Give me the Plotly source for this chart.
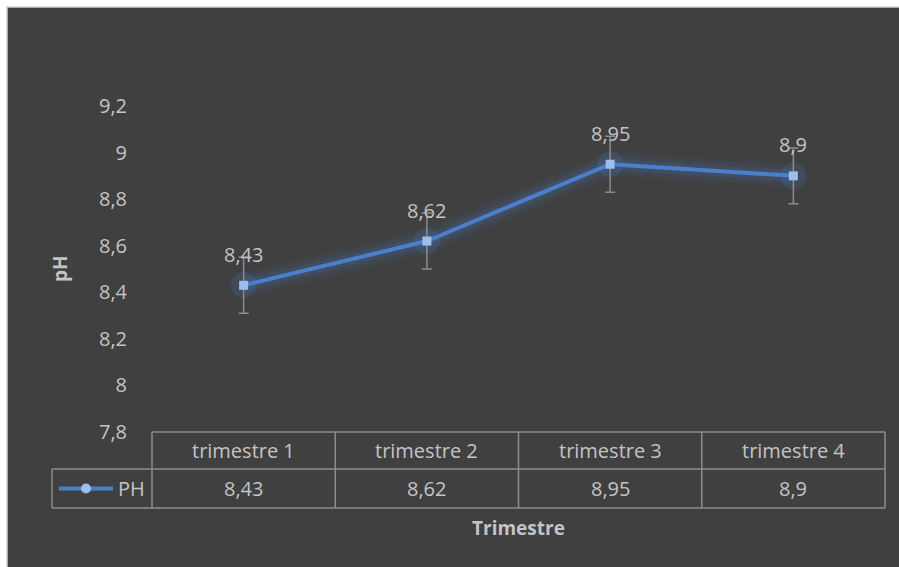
import plotly.graph_objects as go

categories = ["trimestre 1", "trimestre 2", "trimestre 3", "trimestre 4"]
ph_values = [8.43, 8.62, 8.95, 8.9]
ph_errors = [0.12, 0.12, 0.12, 0.12]
y_ticks = [7.8, 8.0, 8.2, 8.4, 8.6, 8.8, 9.0, 9.2]
series_name = "PH"

W, H = 899, 567
L, R, T, B = 152, 14, 106, 135
PW, PH_ = W - L - R, H - T - B

def fr(v):
    return ("%g" % v).replace(".", ",")

def px_x(p):
    return (p - L) / PW

def px_y(p):
    return (H - B - p) / PH_

TXT = "#c4c4c4"
GRID = "#8c8c8c"
FONT = "Open Sans"
FS = 20

fig = go.Figure()
xs = list(range(len(categories)))

# glow
for w, op in [(24, 0.05), (17, 0.08), (11, 0.13)]:
    fig.add_trace(go.Scatter(x=xs, y=ph_values, mode="lines",
                             line=dict(color="#4a7fcb", width=w),
                             opacity=op, hoverinfo="skip", showlegend=False))
fig.add_trace(go.Scatter(x=xs, y=ph_values, mode="markers",
                         marker=dict(size=26, color="#4a7fcb", opacity=0.18),
                         hoverinfo="skip", showlegend=False))

fig.add_trace(go.Scatter(
    x=xs, y=ph_values, mode="lines+markers", name=series_name,
    line=dict(color="#4a7fcb", width=4),
    marker=dict(symbol="square", size=9, color="#9dbdeb"),
    error_y=dict(type="data", array=ph_errors, color="#8c8c8c", thickness=1.5, width=5),
    showlegend=False,
))

shapes = []
# chart frame
shapes.append(dict(type="rect", xref="paper", yref="paper",
                   x0=px_x(7), x1=px_x(W + 5), y0=px_y(H + 5), y1=px_y(7),
                   fillcolor="#404040", line=dict(color="#d0d0d0", width=1.5),
                   layer="below"))

annotations = []
# data labels
for x, v in zip(xs, ph_values):
    annotations.append(dict(x=x, y=v, xref="x", yref="y", text=fr(v), showarrow=False,
                            xanchor="center", yanchor="middle", yshift=31,
                            font=dict(family=FONT, size=FS, color=TXT)))

# table
n = len(categories)
row0, row1, row2 = 0.0, px_y(469), px_y(508)
leg_left = px_x(52)
line_style = dict(color=GRID, width=1.5)
shapes.append(dict(type="line", xref="paper", yref="paper", x0=0, x1=1, y0=row0, y1=row0, line=line_style))
shapes.append(dict(type="line", xref="paper", yref="paper", x0=leg_left, x1=1, y0=row1, y1=row1, line=line_style))
shapes.append(dict(type="line", xref="paper", yref="paper", x0=leg_left, x1=1, y0=row2, y1=row2, line=line_style))
shapes.append(dict(type="line", xref="paper", yref="paper", x0=leg_left, x1=leg_left, y0=row2, y1=row1, line=line_style))
for i in range(n + 1):
    xp = i / n
    shapes.append(dict(type="line", xref="paper", yref="paper", x0=xp, x1=xp, y0=row2, y1=row0, line=line_style))

for i, (c, v) in enumerate(zip(categories, ph_values)):
    xc = (i + 0.5) / n
    annotations.append(dict(x=xc, y=(row0 + row1) / 2, xref="paper", yref="paper", text=c,
                            xanchor="center", yanchor="middle",
                            showarrow=False, font=dict(family=FONT, size=FS, color=TXT)))
    annotations.append(dict(x=xc, y=(row1 + row2) / 2, xref="paper", yref="paper", text=fr(v),
                            xanchor="center", yanchor="middle",
                            showarrow=False, font=dict(family=FONT, size=FS, color=TXT)))

# legend key in table
ly = (row1 + row2) / 2
shapes.append(dict(type="line", xref="paper", yref="paper", x0=px_x(59), x1=px_x(113), y0=ly, y1=ly,
                   line=dict(color="#4a7fcb", width=4)))
shapes.append(dict(type="circle", xref="paper", yref="paper", x0=px_x(81), x1=px_x(91),
                   y0=ly - 5 / PH_, y1=ly + 5 / PH_, fillcolor="#9dbdeb", line=dict(width=0)))
annotations.append(dict(x=px_x(116), y=ly, xref="paper", yref="paper", text=series_name,
                        xanchor="left", yanchor="middle",
                        showarrow=False, font=dict(family=FONT, size=FS, color=TXT)))

# axis titles
annotations.append(dict(x=px_x(60), y=px_y(268), xref="paper", yref="paper", text="<b>pH</b>",
                        xanchor="center", yanchor="middle",
                        textangle=-90, showarrow=False, font=dict(family=FONT, size=19, color=TXT)))
annotations.append(dict(x=px_x(518), y=px_y(528), xref="paper", yref="paper", text="<b>Trimestre</b>",
                        xanchor="center", yanchor="middle",
                        showarrow=False, font=dict(family=FONT, size=19, color=TXT)))

fig.update_layout(
    width=W, height=H,
    margin=dict(l=L, r=R, t=T, b=B),
    paper_bgcolor="white", plot_bgcolor="rgba(0,0,0,0)",
    shapes=shapes, annotations=annotations,
    xaxis=dict(range=[-0.5, n - 0.5], showgrid=False, zeroline=False, showticklabels=False,
               showline=False, fixedrange=True),
    yaxis=dict(range=[7.8, 9.2], tickvals=y_ticks, ticktext=[fr(t) for t in y_ticks],
               showgrid=False, zeroline=False, showline=False, ticks="",
               tickfont=dict(family=FONT, size=FS, color=TXT), ticklabelstandoff=24,
               fixedrange=True),
    showlegend=False,
)

fig.write_html("out.html")
